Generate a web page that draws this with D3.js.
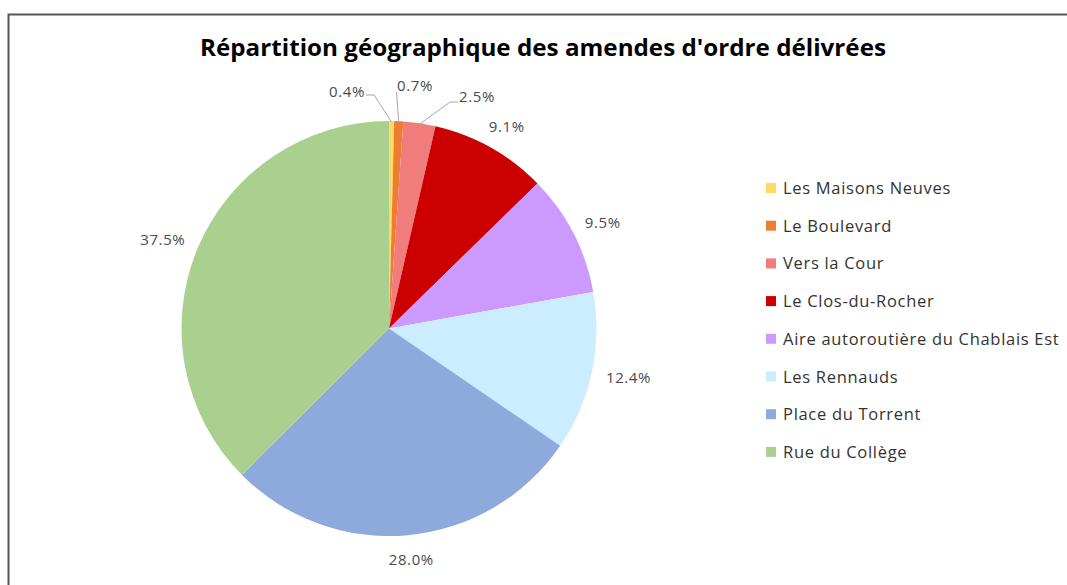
<!DOCTYPE html>
<html>
<head>
<meta charset="utf-8">
<script src="https://cdn.jsdelivr.net/npm/d3@7"></script>
<style>
  html, body { margin: 0; padding: 0; background: #fff; }
  svg { display: block; }
</style>
</head>
<body>
<svg id="chart" width="1067" height="585"></svg>
<script>
// Répartition géographique des amendes d'ordre délivrées
const categories = [
  "Les Maisons Neuves",
  "Le Boulevard",
  "Vers la Cour",
  "Le Clos-du-Rocher",
  "Aire autoroutière du Chablais Est",
  "Les Rennauds",
  "Place du Torrent",
  "Rue du Collège"
];
const shares = [0.4, 0.7, 2.5, 9.1, 9.5, 12.4, 28.0, 37.5];
const colors = ["#FFD966", "#ED7D31", "#F07C7C", "#CC0000", "#CC99FF", "#CCECFF", "#8EA9DB", "#A9D08E"];
const titleText = "Répartition géographique des amendes d'ordre délivrées";

const W = 1067, H = 585;
const svg = d3.select("#chart");

// frame
svg.append("path")
  .attr("d", `M8.5,${H} L8.5,14.5 L${W},14.5`)
  .attr("fill", "none").attr("stroke", "#555").attr("stroke-width", 2);

// title
svg.append("text")
  .attr("x", 543).attr("y", 56)
  .attr("text-anchor", "middle")
  .attr("font-family", "'Open Sans', sans-serif")
  .attr("font-weight", "bold")
  .attr("font-size", 23)
  .attr("textLength", 686)
  .attr("lengthAdjust", "spacingAndGlyphs")
  .attr("fill", "#000")
  .text(titleText);

// pie
const cx = 389, cy = 328.5, r = 207.5;
const data = categories.map((c, i) => ({ name: c, value: shares[i], color: colors[i], i }));
const pie = d3.pie().value(d => d.value).sort(null);
const arcs = pie(data);
const arc = d3.arc().innerRadius(0).outerRadius(r);

const g = svg.append("g").attr("transform", `translate(${cx},${cy})`);
g.selectAll("path.slice")
  .data(arcs)
  .join("path")
  .attr("class", "slice")
  .attr("d", arc)
  .attr("fill", d => d.data.color);

const fmt = d3.format(".1f");
const labelFont = "'Open Sans', sans-serif";
const labelSize = 15;
const labelColor = "#4a4a4a";

// the thin slices get callout labels lifted above the pie
// side: +1 leader leaves from the label's right edge, -1 from its left, 0 from its bottom-left corner
const callouts = {
  0: { dx: -42, dy: -237.5, side: 1 },
  1: { dx: 26, dy: -243.5, side: 0 },
  2: { dx: 88, dy: -232.5, side: -1 }
};

const mid = d => (d.startAngle + d.endAngle) / 2;
arcs.forEach(d => {
  const a = mid(d);
  const sx = Math.sin(a), sy = -Math.cos(a);
  const txt = fmt(d.data.value) + "%";
  const t = g.append("text")
    .attr("font-family", labelFont)
    .attr("font-size", labelSize)
    .attr("letter-spacing", 0.6)
    .attr("fill", labelColor)
    .attr("text-anchor", "middle")
    .text(txt);
  const halfW = 18;
  const c = callouts[d.index];
  if (c) {
    t.attr("x", c.dx).attr("y", c.dy + 5.5);
    const ex = r * sx, ey = r * sy + 1;
    const line = g.append("path").attr("fill", "none")
      .attr("stroke", "#A6A6A6").attr("stroke-width", 1);
    if (c.side === 0) {
      line.attr("d", `M${c.dx - halfW - 0.5},${c.dy + 7} L${ex},${ey}`);
    } else {
      const x0 = c.dx + c.side * (halfW + 1);
      const x1 = x0 + c.side * 8;
      const ly = c.dy + 4 + (c.side < 0 ? 2 : 0);
      line.attr("d", `M${x0},${ly} L${x1},${ly} L${ex},${ey}`);
    }
  } else {
    const w = txt.length * 9, h = 18;
    const gap = 15;
    const px = (r + gap) * sx + sx * w / 2;
    const py = (r + gap) * sy + sy * h / 2;
    t.attr("x", px).attr("y", py + 5.5);
  }
});

// legend
const leg = svg.append("g").attr("transform", "translate(766,188)");
const rows = leg.selectAll("g").data(data).join("g")
  .attr("transform", (d, i) => `translate(0,${i * 37.7})`);
rows.append("rect")
  .attr("x", 0).attr("y", -5).attr("width", 10).attr("height", 10)
  .attr("fill", d => d.color);
rows.append("text")
  .attr("x", 17).attr("y", 6)
  .attr("font-family", "'Open Sans', sans-serif")
  .attr("font-size", 16.5)
  .attr("letter-spacing", 0.7)
  .attr("fill", "#333")
  .text(d => d.name);
</script>
</body>
</html>
